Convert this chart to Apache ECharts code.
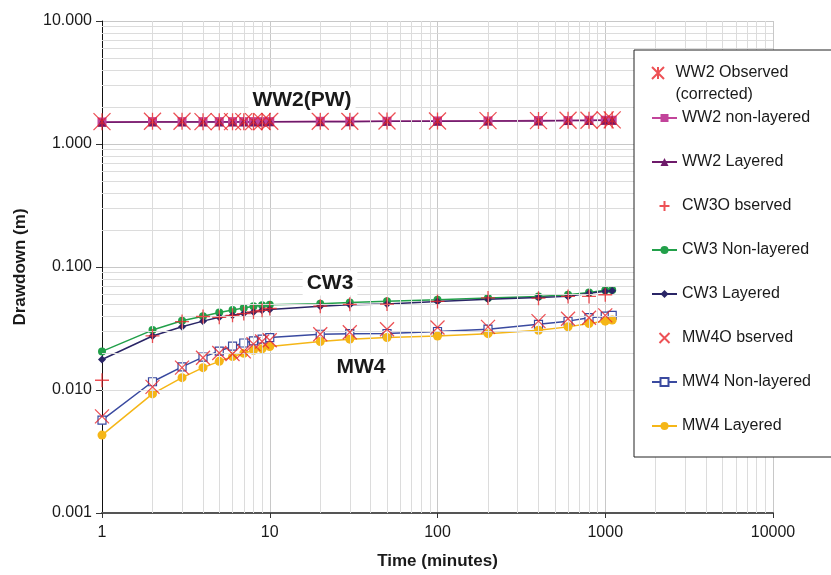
<!DOCTYPE html>
<html><head><meta charset="utf-8">
<script src="https://cdn.jsdelivr.net/npm/echarts@6/dist/echarts.min.js"></script>
<style>html,body{margin:0;padding:0;background:#fff}#c{width:831px;height:575px}</style>
</head><body><div id="c"></div>
<script>
var times = [1,2,3,4,5,6,7,8,9,10,20,30,50,100,200,400,600,800,1000,1100];
var ww2Observed = [1.52,1.53,1.53,1.52,1.52,1.52,1.52,1.52,1.52,1.53,1.53,1.53,1.54,1.54,1.55,1.55,1.56,1.56,1.57,1.57];
var ww2NonLayered = [1.51,1.52,1.52,1.52,1.52,1.52,1.52,1.52,1.52,1.52,1.53,1.53,1.53,1.54,1.54,1.55,1.55,1.56,1.56,1.56];
var ww2Layered = [1.50,1.51,1.51,1.51,1.51,1.51,1.51,1.51,1.51,1.52,1.52,1.52,1.53,1.53,1.54,1.54,1.55,1.55,1.56,1.56];
var cw3Observed = [0.012,0.0275,0.036,0.0396,0.039,0.0405,0.0418,0.0431,0.0444,0.046,0.048,0.0497,0.050,0.0525,0.056,0.0558,0.0577,0.0577,0.0595];
var cw3NonLayered = [0.0206,0.0307,0.0365,0.0398,0.0426,0.0448,0.0464,0.0479,0.0488,0.0494,0.0503,0.0515,0.0526,0.0541,0.0559,0.0575,0.0594,0.062,0.0647,0.065];
var cw3Layered = [0.0177,0.0275,0.0327,0.0363,0.039,0.0405,0.0418,0.0431,0.0444,0.0451,0.0479,0.0494,0.050,0.0525,0.0548,0.0565,0.0577,0.0613,0.0635,0.064];
var mw4Observed = [0.0061,0.0106,0.0152,0.0183,0.020,0.0196,0.0206,0.0236,0.0248,0.0254,0.0284,0.0295,0.0312,0.0322,0.0326,0.0363,0.038,0.0387,0.0404];
var mw4NonLayered = [0.00569,0.01167,0.0154,0.0185,0.0207,0.0227,0.0241,0.0251,0.0259,0.0267,0.0284,0.0287,0.0288,0.0299,0.0312,0.0342,0.0363,0.0387,0.0398,0.0405];
var mw4Layered = [0.0043,0.0093,0.0126,0.0152,0.0171,0.0187,0.0199,0.021,0.0216,0.0226,0.0248,0.0259,0.0267,0.0275,0.0287,0.0306,0.0326,0.0347,0.0363,0.037];
var xTickValues = [1,10,100,1000,10000];
var yTickValues = [0.001,0.01,0.1,1,10];
var wellLabels = [{text:'WW2(PW)', x:302, y:100},{text:'CW3', x:330, y:283},{text:'MW4', x:361, y:367}];

function pairs(ys){ return ys.map(function(v,i){ return [times[i], v]; }); }
var minorX = [], minorY = [];
xTickValues.slice(0,4).forEach(function(d){ for(var k=2;k<=9;k++) minorX.push(d*k); });
yTickValues.slice(0,4).forEach(function(d){ for(var k=2;k<=9;k++) minorY.push(+(d*k).toPrecision(3)); });

var FONT = '"Liberation Sans", Arial, Helvetica, sans-serif';
var RED = '#e8262a';
var ASTER = 'path://M0,0L20,20M20,0L0,20M10,0L10,20';
var XSYM = 'path://M0,0L20,20M20,0L0,20';
var PLUS = 'path://M10,0L10,20M0,10L20,10';

function obsSeries(name, ys, sym, size){
  return {name:name, type:'scatter', data:pairs(ys), symbol:sym, symbolSize:size, z:5,
    itemStyle:{color:'rgba(0,0,0,0)', borderColor:RED, borderWidth:1.3}};
}
function lineSeries(name, ys, color, sym, size, hollow){
  return {name:name, type:'line', data:pairs(ys), symbol:sym, symbolSize:size, showSymbol:true, z:3,
    lineStyle:{color:color, width:1.5},
    itemStyle:{color: hollow ? '#fff' : color, borderColor:color, borderWidth: hollow?1.2:0}};
}

var chart = echarts.init(document.getElementById('c'), null, {renderer:'canvas'});
var legendText = {fontFamily:FONT, fontSize:16, color:'#1a1a1a'};
chart.setOption({
  animation:false,
  backgroundColor:'#fff',
  grid:{left:102, right:58, top:21, bottom:54, containLabel:false},
  xAxis:{type:'log', logBase:10, min:1, max:10000,
    name:'Time (minutes)', nameLocation:'middle', nameGap:40,
    nameTextStyle:{fontFamily:FONT, fontSize:17, fontWeight:'bold', color:'#1a1a1a'},
    axisLine:{lineStyle:{color:'#555', width:2}},
    axisTick:{show:true, length:5, lineStyle:{color:'#333'}},
    axisLabel:{fontFamily:FONT, fontSize:16, color:'#1a1a1a', margin:12, formatter:function(v){return String(Math.round(v));}},
    splitLine:{show:true, lineStyle:{color:'#c8c8c8', width:1}}},
  yAxis:{type:'log', logBase:10, min:0.001, max:10,
    name:'Drawdown (m)', nameLocation:'middle', nameGap:73, nameRotate:90,
    nameTextStyle:{fontFamily:FONT, fontSize:17, fontWeight:'bold', color:'#1a1a1a'},
    axisLine:{show:true, lineStyle:{color:'#111', width:1}},
    axisTick:{show:true, length:6, lineStyle:{color:'#333'}},
    axisLabel:{fontFamily:FONT, fontSize:16, color:'#1a1a1a', margin:10, formatter:function(v){return v.toFixed(3);}},
    splitLine:{show:true, lineStyle:{color:'#c8c8c8', width:1}}},
  legend:[
    {data:['WW2 non-layered','WW2 Layered','CW3O bserved','CW3 Non-layered','CW3 Layered','MW4O bserved','MW4 Non-layered','MW4 Layered'],
     orient:'vertical', left:634, top:50, padding:[46,80,9,17], itemGap:0, z:20,
     itemWidth:25, itemHeight:10, borderColor:'#222', borderWidth:1, backgroundColor:'#fff',
     textStyle:Object.assign({lineHeight:44}, legendText)},
    {data:['WW2 Observed'], orient:'vertical', left:634, top:40, padding:[0,0,0,17], z:25,
     itemWidth:25, itemHeight:12, textStyle:Object.assign({lineHeight:22}, legendText),
     formatter:function(n){ return '\u00a0\nWW2 Observed\n(corrected)'; }}
  ],
  graphic: wellLabels.map(function(l){
    return {type:'text', x:l.x, y:l.y, z:10,
      style:{text:l.text, font:'bold 21px '+FONT, fill:'#1a1a1a', textAlign:'center', textVerticalAlign:'middle',
        backgroundColor:'#fff', padding:[2,4]}};
  }),
  series:[
    {type:'line', data:[], silent:true, z:1,
      markLine:{silent:true, symbol:['none','none'], label:{show:false}, animation:false,
        lineStyle:{color:'#dcdcdc', width:1, type:'solid'},
        data: minorX.map(function(v){return {xAxis:v};}).concat(minorY.map(function(v){return {yAxis:v};}))}},
    obsSeries('WW2 Observed', ww2Observed, ASTER, 17),
    lineSeries('WW2 non-layered', ww2NonLayered, '#c2449a', 'rect', 9, false),
    lineSeries('WW2 Layered', ww2Layered, '#6e1a6a', 'triangle', 9, false),
    obsSeries('CW3O bserved', cw3Observed, PLUS, 14),
    lineSeries('CW3 Non-layered', cw3NonLayered, '#22a04a', 'circle', 8, false),
    lineSeries('CW3 Layered', cw3Layered, '#2a2566', 'diamond', 8, false),
    obsSeries('MW4O bserved', mw4Observed, XSYM, 14),
    lineSeries('MW4 Non-layered', mw4NonLayered, '#3a4aa0', 'rect', 8, true),
    lineSeries('MW4 Layered', mw4Layered, '#f5b617', 'circle', 9, false)
  ]
});
</script></body></html>
